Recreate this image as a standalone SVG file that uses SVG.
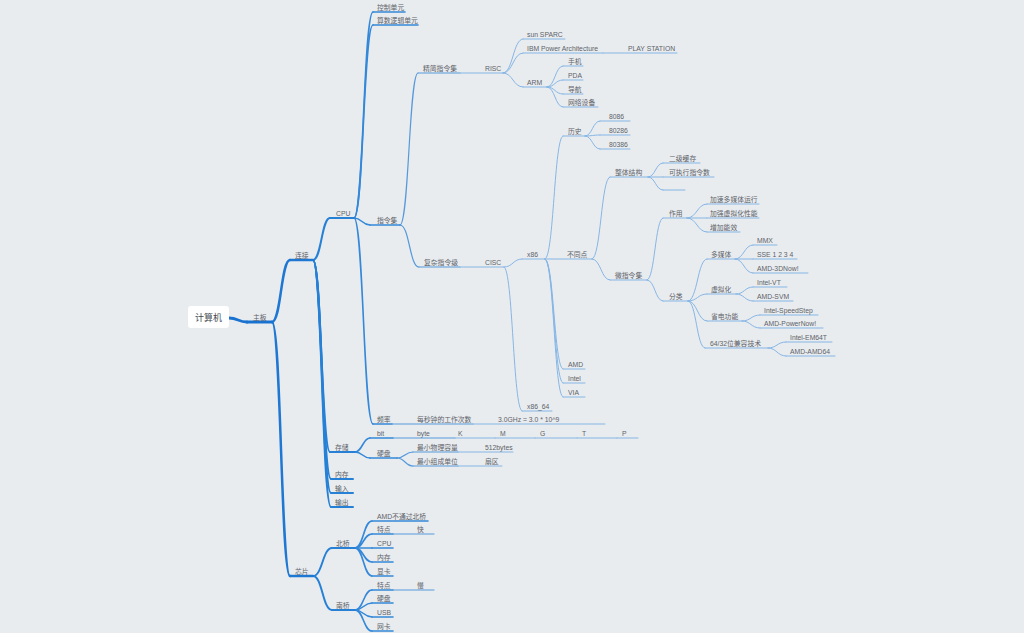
<svg xmlns="http://www.w3.org/2000/svg" width="1024" height="633" viewBox="0 0 1024 633">
<style>
  text { font-family: "Liberation Sans", "Noto Sans CJK SC", sans-serif; font-size: 6.8px; fill: #5d6269; }
  .root text { font-size: 9px; fill: #444a52; }
  path { fill: none; stroke-linecap: round; }
  .l1 { stroke: #1a72d0; stroke-width: 3; }
  .l2 { stroke: #1e77d3; stroke-width: 2.5; }
  .l3 { stroke: #2680d6; stroke-width: 2; }
  .l4 { stroke: #3488d9; stroke-width: 1.6; }
  .l5 { stroke: #5799dc; stroke-width: 1.2; }
  .l6 { stroke: #86b6e6; stroke-width: 1; }
</style>
<rect width="1024" height="633" fill="#e9ecef"/>

<!-- connectors: parent branch point to child underline start -->
<g id="connectors">
  <path class="l1" d="M229 318 C238 318 238 322 247 322"/>
  <path class="l2" d="M272 322 C281 322 281 260 290 260"/>
  <path class="l2" d="M272 322 C281 322 281 576 290 576"/>

  <path class="l3" d="M313 260 C321.5 260 321.5 218 330 218"/>
  <path class="l3" d="M313 260 C321.5 260 321.5 452 330 452"/>
  <path class="l3" d="M313 260 C322 260 322 479 331 479"/>
  <path class="l3" d="M313 260 C322 260 322 493 331 493"/>
  <path class="l3" d="M313 260 C322 260 322 507 331 507"/>
  <path class="l3" d="M313 576 C322.5 576 322.5 548 332 548"/>
  <path class="l3" d="M313 576 C322.5 576 322.5 610 332 610"/>

  <path class="l4" d="M354 218 C363.5 218 363.5 12 373 12"/>
  <path class="l4" d="M354 218 C363.5 218 363.5 25 373 25"/>
  <path class="l4" d="M354 218 C362 218 362 225 370 225"/>
  <path class="l4" d="M354 218 C363.5 218 363.5 424 373 424"/>
  <path class="l4" d="M355 452 C362.5 452 362.5 438 370 438"/>
  <path class="l4" d="M355 452 C362.5 452 362.5 458 370 458"/>
  <path class="l4" d="M355 548 C363.5 548 363.5 521 372 521"/>
  <path class="l4" d="M355 548 C363.5 548 363.5 534 372 534"/>
  <path class="l4" d="M355 548 L372 548"/>
  <path class="l4" d="M355 548 C363.5 548 363.5 562 372 562"/>
  <path class="l4" d="M355 548 C363.5 548 363.5 576 372 576"/>
  <path class="l4" d="M355 610 C363.5 610 363.5 590 372 590"/>
  <path class="l4" d="M355 610 C363.5 610 363.5 603 372 603"/>
  <path class="l4" d="M355 610 C363.5 610 363.5 617 372 617"/>
  <path class="l4" d="M355 610 C363.5 610 363.5 631 372 631"/>

  <path class="l5" d="M400 225 C409 225 409 73 418 73"/>
  <path class="l5" d="M400 225 C409.5 225 409.5 267 419 267"/>
  <path class="l5" d="M397 458 C405 458 405 452 413 452"/>
  <path class="l5" d="M397 458 C405 458 405 466 413 466"/>

  <path class="l6" d="M503 73 C513 73 513 39 523 39"/>
  <path class="l6" d="M503 73 C513 73 513 53 523 53"/>
  <path class="l6" d="M503 73 C513 73 513 87 523 87"/>
  <path class="l6" d="M547 87 C555 87 555 66 563 66"/>
  <path class="l6" d="M547 87 C555 87 555 80 563 80"/>
  <path class="l6" d="M547 87 C555 87 555 94 563 94"/>
  <path class="l6" d="M547 87 C555 87 555 107 563 107"/>

  <path class="l6" d="M504 267 C513 267 513 259 522 259"/>
  <path class="l6" d="M504 267 C513 267 513 411 522 411"/>
  <path class="l6" d="M545 259 C554 259 554 136 563 136"/>
  <path class="l6" d="M545 259 C554 259 554 369 563 369"/>
  <path class="l6" d="M545 259 C554 259 554 383 563 383"/>
  <path class="l6" d="M545 259 C554 259 554 397 563 397"/>
  <path class="l6" d="M585 136 C592.5 136 592.5 121 600 121"/>
  <path class="l6" d="M585 136 C592.5 136 592.5 135 600 135"/>
  <path class="l6" d="M585 136 C592.5 136 592.5 149 600 149"/>
  <path class="l6" d="M592 259 C601 259 601 177 610 177"/>
  <path class="l6" d="M592 259 C601 259 601 280 610 280"/>
  <path class="l6" d="M648 177 C655.5 177 655.5 163 663 163"/>
  <path class="l6" d="M648 177 L663 177"/>
  <path class="l6" d="M648 177 C655.5 177 655.5 190 663 190"/>
  <path class="l6" d="M647 280 C655 280 655 218 663 218"/>
  <path class="l6" d="M647 280 C655 280 655 301 663 301"/>
  <path class="l6" d="M687 218 C697 218 697 204 707 204"/>
  <path class="l6" d="M687 218 L707 218"/>
  <path class="l6" d="M687 218 C697 218 697 232 707 232"/>
  <path class="l6" d="M688 301 C697.5 301 697.5 259 707 259"/>
  <path class="l6" d="M688 301 C697.5 301 697.5 294 707 294"/>
  <path class="l6" d="M688 301 C697.5 301 697.5 321 707 321"/>
  <path class="l6" d="M688 301 C696.5 301 696.5 348 705 348"/>
  <path class="l6" d="M735 259 C744 259 744 245 753 245"/>
  <path class="l6" d="M735 259 L753 259"/>
  <path class="l6" d="M735 259 C744 259 744 273 753 273"/>
  <path class="l6" d="M736 294 C744.5 294 744.5 287 753 287"/>
  <path class="l6" d="M736 294 C744.5 294 744.5 301 753 301"/>
  <path class="l6" d="M742 321 C751 321 751 315 760 315"/>
  <path class="l6" d="M742 321 C751 321 751 328 760 328"/>
  <path class="l6" d="M768 348 C777 348 777 342 786 342"/>
  <path class="l6" d="M768 348 C777 348 777 356 786 356"/>
</g>

<!-- central topic -->
<g id="n-root" class="root">
  <rect x="188" y="306" width="41" height="22" rx="3" fill="#ffffff"/>
  <text x="208.5" y="320.5" text-anchor="middle">计算机</text>
</g>

<g id="n-zhuban"><path class="l1" d="M247 322H272"/><text x="253" y="319.5">主板</text></g>
<g id="n-lianjie"><path class="l2" d="M290 260H313"/><text x="295" y="257.5">连接</text></g>
<g id="n-xinpian"><path class="l2" d="M290 576H313"/><text x="295" y="573.5">芯片</text></g>

<g id="n-cpu"><path class="l3" d="M330 218H354"/><text x="336" y="215.5">CPU</text></g>
<g id="n-cunchu"><path class="l3" d="M330 452H355"/><text x="335" y="449.5">存储</text></g>
<g id="n-neicun"><path class="l3" d="M331 479H353"/><text x="335" y="476.5">内存</text></g>
<g id="n-shuru"><path class="l3" d="M331 493H353"/><text x="335" y="490.5">输入</text></g>
<g id="n-shuchu"><path class="l3" d="M331 507H353"/><text x="335" y="504.5">输出</text></g>
<g id="n-beiqiao"><path class="l3" d="M332 548H355"/><text x="336" y="545.5">北桥</text></g>
<g id="n-nanqiao"><path class="l3" d="M332 610H355"/><text x="336" y="607.5">南桥</text></g>

<!-- CPU branch -->
<g id="n-kongzhi"><path class="l4" d="M373 12H405"/><text x="377" y="9.5">控制单元</text></g>
<g id="n-suanshu"><path class="l4" d="M373 25H418"/><text x="377" y="22.5">算数逻辑单元</text></g>
<g id="n-zhilingji"><path class="l4" d="M370 225H400"/><text x="377" y="222.5">指令集</text></g>
<g id="n-pinlv"><path class="l4" d="M373 424H392"/><text x="377" y="421.5">频率</text></g>
<g id="n-meimiao"><path class="l5" d="M392 424H473"/><text x="417" y="421.5">每秒钟的工作次数</text></g>
<g id="n-ghz"><path class="l6" d="M473 424H605"/><text x="498" y="421.5">3.0GHz = 3.0 * 10^9</text></g>

<!-- storage branch -->
<g id="n-bit"><path class="l4" d="M370 438H393"/><text x="377" y="435.5">bit</text></g>
<g id="n-byte"><path class="l5" d="M393 438H455"/><text x="417" y="435.5">byte</text></g>
<g id="n-k"><path class="l6" d="M455 438H495"/><text x="458" y="435.5">K</text></g>
<g id="n-m"><path class="l6" d="M495 438H535"/><text x="500" y="435.5">M</text></g>
<g id="n-g"><path class="l6" d="M535 438H577"/><text x="540" y="435.5">G</text></g>
<g id="n-t"><path class="l6" d="M577 438H617"/><text x="582" y="435.5">T</text></g>
<g id="n-p"><path class="l6" d="M617 438H638"/><text x="622" y="435.5">P</text></g>
<g id="n-yingpan"><path class="l4" d="M370 458H397"/><text x="377" y="455.5">硬盘</text></g>
<g id="n-wuli"><path class="l5" d="M413 452H458"/><text x="417" y="449.5">最小物理容量</text></g>
<g id="n-512"><path class="l6" d="M458 452H513"/><text x="485" y="449.5">512bytes</text></g>
<g id="n-zucheng"><path class="l5" d="M413 466H458"/><text x="417" y="463.5">最小组成单位</text></g>
<g id="n-shanqu"><path class="l6" d="M458 466H502"/><text x="485" y="463.5">扇区</text></g>

<!-- north bridge -->
<g id="n-amdnb"><path class="l4" d="M372 521H428"/><text x="377" y="518.5">AMD不通过北桥</text></g>
<g id="n-tedian1"><path class="l4" d="M372 534H393"/><text x="377" y="531.5">特点</text></g>
<g id="n-kuai"><path class="l5" d="M393 534H434"/><text x="417" y="531.5">快</text></g>
<g id="n-nbcpu"><path class="l4" d="M372 548H393"/><text x="377" y="545.5">CPU</text></g>
<g id="n-nbmem"><path class="l4" d="M372 562H393"/><text x="377" y="559.5">内存</text></g>
<g id="n-xianka"><path class="l4" d="M372 576H393"/><text x="377" y="573.5">显卡</text></g>

<!-- south bridge -->
<g id="n-tedian2"><path class="l4" d="M372 590H393"/><text x="377" y="587.5">特点</text></g>
<g id="n-man"><path class="l5" d="M393 590H434"/><text x="417" y="587.5">慢</text></g>
<g id="n-sbdisk"><path class="l4" d="M372 603H393"/><text x="377" y="600.5">硬盘</text></g>
<g id="n-usb"><path class="l4" d="M372 617H393"/><text x="377" y="614.5">USB</text></g>
<g id="n-wangka"><path class="l4" d="M372 631H393"/><text x="377" y="628.5">网卡</text></g>

<!-- RISC -->
<g id="n-jingjian"><path class="l5" d="M418 73H460"/><text x="423" y="70.5">精简指令集</text></g>
<g id="n-risc"><path class="l6" d="M460 73H503"/><text x="485" y="70.5">RISC</text></g>
<g id="n-sparc"><path class="l6" d="M523 39H565"/><text x="527" y="36.5">sun SPARC</text></g>
<g id="n-ibm"><path class="l6" d="M523 53H603"/><text x="527" y="50.5">IBM Power Architecture</text></g>
<g id="n-ps"><path class="l6" d="M603 53H677"/><text x="628" y="50.5">PLAY STATION</text></g>
<g id="n-arm"><path class="l6" d="M523 87H547"/><text x="527" y="84.5">ARM</text></g>
<g id="n-shouji"><path class="l6" d="M563 66H583"/><text x="568" y="63.5">手机</text></g>
<g id="n-pda"><path class="l6" d="M563 80H583"/><text x="568" y="77.5">PDA</text></g>
<g id="n-daohang"><path class="l6" d="M563 94H583"/><text x="568" y="91.5">导航</text></g>
<g id="n-wangluo"><path class="l6" d="M563 107H598"/><text x="568" y="104.5">网络设备</text></g>

<!-- CISC -->
<g id="n-fuza"><path class="l5" d="M419 267H460"/><text x="424" y="264.5">复杂指令级</text></g>
<g id="n-cisc"><path class="l6" d="M460 267H504"/><text x="485" y="264.5">CISC</text></g>
<g id="n-x86"><path class="l6" d="M522 259H545"/><text x="527" y="256.5">x86</text></g>
<g id="n-x8664"><path class="l6" d="M522 411H552"/><text x="527" y="408.5">x86_64</text></g>
<g id="n-lishi"><path class="l6" d="M563 136H585"/><text x="568" y="133.5">历史</text></g>
<g id="n-8086"><path class="l6" d="M600 121H630"/><text x="609" y="118.5">8086</text></g>
<g id="n-80286"><path class="l6" d="M600 135H630"/><text x="609" y="132.5">80286</text></g>
<g id="n-80386"><path class="l6" d="M600 149H630"/><text x="609" y="146.5">80386</text></g>
<g id="n-butong"><path class="l6" d="M545 259H592"/><text x="567" y="256.5">不同点</text></g>
<g id="n-amd"><path class="l6" d="M563 369H585"/><text x="568" y="366.5">AMD</text></g>
<g id="n-intel"><path class="l6" d="M563 383H585"/><text x="568" y="380.5">Intel</text></g>
<g id="n-via"><path class="l6" d="M563 397H585"/><text x="568" y="394.5">VIA</text></g>

<g id="n-zhengti"><path class="l6" d="M610 177H648"/><text x="615" y="174.5">整体结构</text></g>
<g id="n-erji"><path class="l6" d="M663 163H700"/><text x="669" y="160.5">二级缓存</text></g>
<g id="n-kezhixing"><path class="l6" d="M663 177H714"/><text x="669" y="174.5">可执行指令数</text></g>
<g id="n-empty"><path class="l6" d="M663 190H685"/></g>

<g id="n-weizhiling"><path class="l6" d="M610 280H647"/><text x="615" y="277.5">微指令集</text></g>
<g id="n-zuoyong"><path class="l6" d="M663 218H687"/><text x="669" y="215.5">作用</text></g>
<g id="n-jiasu"><path class="l6" d="M707 204H759"/><text x="710" y="201.5">加速多媒体运行</text></g>
<g id="n-jiaqiang"><path class="l6" d="M707 218H759"/><text x="710" y="215.5">加强虚拟化性能</text></g>
<g id="n-zengjia"><path class="l6" d="M707 232H740"/><text x="710" y="229.5">增加能效</text></g>
<g id="n-fenlei"><path class="l6" d="M663 301H688"/><text x="669" y="298.5">分类</text></g>
<g id="n-duomeiti"><path class="l6" d="M707 259H735"/><text x="711" y="256.5">多媒体</text></g>
<g id="n-mmx"><path class="l6" d="M753 245H777"/><text x="757" y="242.5">MMX</text></g>
<g id="n-sse"><path class="l6" d="M753 259H797"/><text x="757" y="256.5">SSE 1 2 3 4</text></g>
<g id="n-3dnow"><path class="l6" d="M753 273H808"/><text x="757" y="270.5">AMD-3DNow!</text></g>
<g id="n-xuni"><path class="l6" d="M707 294H736"/><text x="711" y="291.5">虚拟化</text></g>
<g id="n-vt"><path class="l6" d="M753 287H787"/><text x="757" y="284.5">Intel-VT</text></g>
<g id="n-svm"><path class="l6" d="M753 301H793"/><text x="757" y="298.5">AMD-SVM</text></g>
<g id="n-shengdian"><path class="l6" d="M707 321H742"/><text x="711" y="318.5">省电功能</text></g>
<g id="n-speedstep"><path class="l6" d="M760 315H818"/><text x="764" y="312.5">Intel-SpeedStep</text></g>
<g id="n-powernow"><path class="l6" d="M760 328H823"/><text x="764" y="325.5">AMD-PowerNow!</text></g>
<g id="n-jianrong"><path class="l6" d="M705 348H768"/><text x="710" y="345.5">64/32位兼容技术</text></g>
<g id="n-em64t"><path class="l6" d="M786 342H832"/><text x="790" y="339.5">Intel-EM64T</text></g>
<g id="n-amd64"><path class="l6" d="M786 356H835"/><text x="790" y="353.5">AMD-AMD64</text></g>
</svg>
